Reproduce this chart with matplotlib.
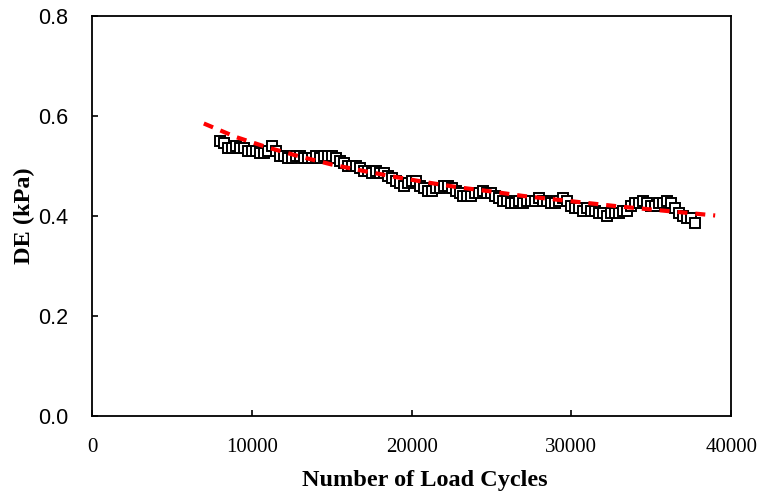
import matplotlib
matplotlib.use('Agg')
import matplotlib.pyplot as plt
import numpy as np

cycles = np.arange(8000, 37751, 250)
de = [0.550, 0.545, 0.535, 0.535, 0.540, 0.535, 0.535, 0.530, 0.530, 0.530,
      0.525, 0.525, 0.530, 0.540, 0.530, 0.520, 0.520, 0.515, 0.515, 0.520,
      0.520, 0.515, 0.515, 0.515, 0.520, 0.515, 0.520, 0.520, 0.520, 0.515,
      0.510, 0.505, 0.500, 0.500, 0.500, 0.495, 0.490, 0.490, 0.485, 0.490,
      0.485, 0.485, 0.480, 0.475, 0.470, 0.465, 0.460, 0.465, 0.470, 0.470,
      0.460, 0.455, 0.450, 0.450, 0.455, 0.455, 0.460, 0.460, 0.455, 0.450,
      0.445, 0.440, 0.440, 0.440, 0.445, 0.445, 0.450, 0.445, 0.445, 0.440,
      0.435, 0.430, 0.430, 0.425, 0.425, 0.430, 0.425, 0.430, 0.430, 0.430,
      0.435, 0.430, 0.430, 0.425, 0.425, 0.430, 0.435, 0.430, 0.420, 0.415,
      0.415, 0.410, 0.415, 0.410, 0.410, 0.405, 0.405, 0.400, 0.405, 0.405,
      0.405, 0.410, 0.410, 0.420, 0.425, 0.425, 0.430, 0.425, 0.420, 0.420,
      0.425, 0.425, 0.430, 0.425, 0.415, 0.405, 0.400, 0.395, 0.395, 0.385]

# trend line
trend_x = [7000, 9000, 11000, 13000, 15000, 17000, 19000, 21000, 23000,
           25000, 27000, 29000, 31000, 33000, 35000, 37000, 39000]
trend_y = [0.585, 0.558, 0.537, 0.519, 0.503, 0.490, 0.478, 0.467, 0.457,
           0.449, 0.440, 0.433, 0.426, 0.419, 0.413, 0.407, 0.401]

xticks = [0, 10000, 20000, 30000, 40000]
yticks = [0.0, 0.2, 0.4, 0.6, 0.8]

fig = plt.figure(figsize=(7.64, 4.95), dpi=100)
ax = fig.add_axes([0.1204, 0.1596, 0.8366, 0.8081])

ax.plot(cycles, de, linestyle='none', marker='s', markersize=7.3,
        markerfacecolor='white', markeredgecolor='black', markeredgewidth=1.4, zorder=2)
ax.plot(trend_x, trend_y, color='red', linewidth=3, dashes=(2.4, 1.9),
        dash_capstyle='butt', zorder=3)

ax.set_xlim(0, 40000)
ax.set_ylim(0, 0.8)
ax.set_xticks(xticks)
ax.set_yticks(yticks)
ax.set_xticklabels([str(t) for t in xticks], family='Liberation Serif', fontsize=15)
ax.set_yticklabels(['%.1f' % t for t in yticks], family='Liberation Sans', fontsize=15.5)
ax.tick_params(direction='in', length=4.5, width=1.2)
ax.tick_params(axis='x', pad=16)
ax.tick_params(axis='y', pad=17)
for s in ax.spines.values():
    s.set_linewidth(1.3)

ax.set_xlabel('Number of Load Cycles', family='Liberation Serif', fontweight='bold',
              fontsize=17.5)
ax.xaxis.set_label_coords(0.52, -0.135)
ax.set_ylabel('DE (kPa)', family='Liberation Serif', fontweight='bold',
              fontsize=17.5, labelpad=2)

fig.savefig('out.png', dpi=100)
